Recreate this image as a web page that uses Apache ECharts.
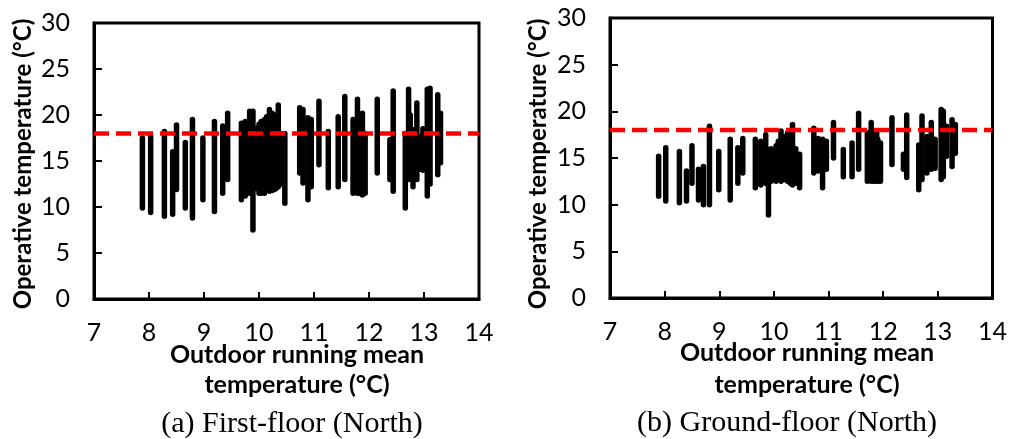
<!DOCTYPE html>
<html>
<head>
<meta charset="utf-8">
<script src="https://cdn.jsdelivr.net/npm/echarts@6/dist/echarts.min.js"></script>
<style>
  html, body { margin: 0; padding: 0; background: #fff; }
  #chart { width: 1010px; height: 439px; }
</style>
</head>
<body>
<div id="chart"></div>
<script>
// (a) First-floor (North): outdoor running mean temp, daily min / max operative temp
const xFirst = [7.88, 8.03, 8.28, 8.43, 8.50, 8.66, 8.79, 8.98, 9.19, 9.34, 9.43, 9.68, 9.72, 9.75, 9.83, 9.89,
  9.95, 10.00, 10.04, 10.10, 10.14, 10.19, 10.24, 10.28, 10.31, 10.35, 10.40, 10.47, 10.74, 10.80, 10.89, 10.95,
  11.09, 11.26, 11.44, 11.56, 11.71, 11.79, 11.83, 11.88, 11.93, 12.15, 12.38, 12.44, 12.66, 12.72, 12.75,
  12.80, 12.87, 12.94, 12.98, 13.06, 13.11, 13.25, 13.30];
const lowFirst = [9.9, 9.4, 9.0, 9.2, 11.9, 9.9, 8.8, 10.8, 9.5, 11.5, 13.0, 10.8, 12.0, 11.2, 11.5, 7.5,
  12.0, 11.5, 11.5, 11.5, 12.0, 11.7, 11.8, 11.9, 12.0, 12.2, 12.5, 10.4, 13.7, 12.6, 10.8, 12.2,
  14.6, 12.1, 12.2, 13.0, 11.5, 11.5, 11.5, 11.3, 11.5, 13.7, 13.0, 11.7, 9.9, 13.0, 13.5,
  12.2, 13.0, 14.1, 14.0, 11.2, 12.5, 13.5, 14.8];
const highFirst = [17.5, 17.7, 18.2, 16.0, 18.9, 17.0, 19.5, 17.5, 19.3, 18.8, 20.2, 19.1, 19.0, 19.3, 20.4, 20.4,
  18.5, 19.0, 19.3, 19.5, 19.8, 20.6, 20.2, 20.0, 19.5, 21.1, 18.0, 18.0, 20.8, 20.6, 19.7, 19.5,
  21.5, 18.2, 19.8, 22.0, 19.5, 21.7, 19.0, 20.2, 18.0, 21.7, 17.3, 22.6, 18.0, 22.8, 20.0,
  18.4, 21.3, 17.7, 18.5, 22.8, 22.9, 22.2, 20.2];

// (b) Ground-floor (North)
const xGround = [7.89, 8.02, 8.27, 8.40, 8.50, 8.62, 8.71, 8.82, 8.99, 9.20, 9.34, 9.43, 9.66, 9.76, 9.80, 9.85,
  9.90, 9.95, 10.04, 10.08, 10.13, 10.19, 10.25, 10.30, 10.34, 10.40, 10.47, 10.73, 10.81, 10.89, 10.96,
  11.09, 11.27, 11.43, 11.55, 11.71, 11.78, 11.83, 11.88, 11.90, 11.95, 12.16, 12.37, 12.43, 12.65, 12.71,
  12.80, 12.88, 12.95, 13.06, 13.10, 13.16, 13.26, 13.32];
const lowGround = [10.9, 10.4, 10.2, 10.4, 12.3, 10.5, 10.0, 10.0, 11.6, 10.5, 12.3, 13.4, 11.8, 12.1, 12.5, 12.3,
  8.9, 12.5, 12.5, 12.8, 12.5, 12.7, 12.5, 12.3, 12.1, 12.3, 11.8, 13.4, 13.6, 11.8, 13.8,
  15.0, 13.0, 13.0, 13.8, 12.5, 12.5, 12.5, 12.5, 12.5, 12.5, 14.3, 13.8, 12.9, 11.6, 12.7,
  13.4, 13.8, 13.9, 12.7, 13.0, 15.2, 14.1, 15.5];
const highGround = [15.2, 16.1, 15.7, 13.6, 16.3, 13.8, 14.1, 18.4, 15.7, 17.0, 16.1, 17.1, 17.0, 16.8, 16.5, 17.5,
  15.9, 16.0, 16.3, 16.8, 17.9, 17.3, 17.7, 17.2, 18.6, 16.0, 15.4, 18.2, 17.1, 17.0, 16.8,
  18.8, 15.9, 16.6, 19.8, 17.7, 18.8, 17.5, 17.9, 17.0, 16.6, 19.3, 15.4, 19.6, 16.4, 19.5,
  17.3, 18.8, 17.0, 20.2, 20.0, 18.4, 19.1, 18.6];

const comfortLimit = 18;
const xTicks = [7, 8, 9, 10, 11, 12, 13, 14];
const yTicks = [0, 5, 10, 15, 20, 25, 30];

const tickFont = 'Lato, "Open Sans", sans-serif';

function makeRanges(xs, lo, hi) {
  return xs.map((x, i) => [x, lo[i], hi[i]]);
}

function renderRange(params, api) {
  const top = api.coord([api.value(0), api.value(2)]);
  const bottom = api.coord([api.value(0), api.value(1)]);
  return {
    type: 'line',
    shape: { x1: top[0], y1: top[1], x2: bottom[0], y2: bottom[1] },
    style: { stroke: '#000', lineWidth: 5.5, lineCap: 'round' }
  };
}

function xAxisFor(idx) {
  return {
    type: 'value', gridIndex: idx,
    min: xTicks[0], max: xTicks[xTicks.length - 1], interval: 1,
    axisLine: { show: true, onZero: false, lineStyle: { color: '#000', width: 3 } },
    axisTick: { show: true, inside: true, length: 7, lineStyle: { color: '#000', width: 2 } },
    axisLabel: { color: '#000', fontSize: 25, fontFamily: tickFont, margin: 21 },
    splitLine: { show: false }
  };
}

function yAxisFor(idx) {
  return {
    type: 'value', gridIndex: idx,
    min: yTicks[0], max: yTicks[yTicks.length - 1], interval: 5,
    axisLine: { show: true, lineStyle: { color: '#000', width: 3 } },
    axisTick: { show: true, inside: true, length: 8, lineStyle: { color: '#000', width: 2 } },
    axisLabel: { color: '#000', fontSize: 25, fontFamily: tickFont, margin: 24 },
    splitLine: { show: false }
  };
}

function limitLine(idx) {
  return {
    type: 'line', xAxisIndex: idx, yAxisIndex: idx,
    data: [[xTicks[0], comfortLimit], [xTicks[xTicks.length - 1], comfortLimit]],
    symbol: 'none', silent: true, z: 5,
    lineStyle: { color: '#ff0000', width: 4.5, type: [15, 7] }
  };
}

const yTitleText = { fontFamily: tickFont, fontWeight: 'bold', fontSize: 24, fill: '#000' };
const xTitleText = { fontFamily: tickFont, fontWeight: 'bold', fontSize: 25, fill: '#000' };
const captionText = { fontFamily: '"Liberation Serif", serif', fontSize: 30, fill: '#000' };

const chart = echarts.init(document.getElementById('chart'));
chart.setOption({
  backgroundColor: '#fff',
  animation: false,
  grid: [
    { left: 94, top: 23, width: 385, height: 276, show: true, borderColor: '#000', borderWidth: 3, backgroundColor: 'transparent' },
    { left: 610, top: 18, width: 384, height: 280, show: true, borderColor: '#000', borderWidth: 3, backgroundColor: 'transparent' }
  ],
  xAxis: [xAxisFor(0), xAxisFor(1)],
  yAxis: [yAxisFor(0), yAxisFor(1)],
  series: [
    { type: 'custom', xAxisIndex: 0, yAxisIndex: 0, renderItem: renderRange, data: makeRanges(xFirst, lowFirst, highFirst) },
    { type: 'custom', xAxisIndex: 1, yAxisIndex: 1, renderItem: renderRange, data: makeRanges(xGround, lowGround, highGround) },
    limitLine(0),
    limitLine(1)
  ],
  graphic: [
    { type: 'text', x: 23, y: 164, rotation: Math.PI / 2,
      style: Object.assign({ text: 'Operative temperature (°C)', align: 'center', verticalAlign: 'middle' }, yTitleText) },
    { type: 'text', x: 538, y: 164, rotation: Math.PI / 2,
      style: Object.assign({ text: 'Operative temperature (°C)', align: 'center', verticalAlign: 'middle' }, yTitleText) },
    { type: 'text', x: 297, y: 355,
      style: Object.assign({ text: 'Outdoor running mean', align: 'center', verticalAlign: 'middle' }, xTitleText) },
    { type: 'text', x: 297, y: 385,
      style: Object.assign({ text: 'temperature (°C)', align: 'center', verticalAlign: 'middle' }, xTitleText) },
    { type: 'text', x: 807, y: 353,
      style: Object.assign({ text: 'Outdoor running mean', align: 'center', verticalAlign: 'middle' }, xTitleText) },
    { type: 'text', x: 807, y: 385,
      style: Object.assign({ text: 'temperature (°C)', align: 'center', verticalAlign: 'middle' }, xTitleText) },
    { type: 'text', x: 292, y: 424,
      style: Object.assign({ text: '(a) First-floor (North)', align: 'center', verticalAlign: 'middle' }, captionText) },
    { type: 'text', x: 787, y: 423,
      style: Object.assign({ text: '(b) Ground-floor (North)', align: 'center', verticalAlign: 'middle' }, captionText) }
  ]
});
</script>
</body>
</html>
